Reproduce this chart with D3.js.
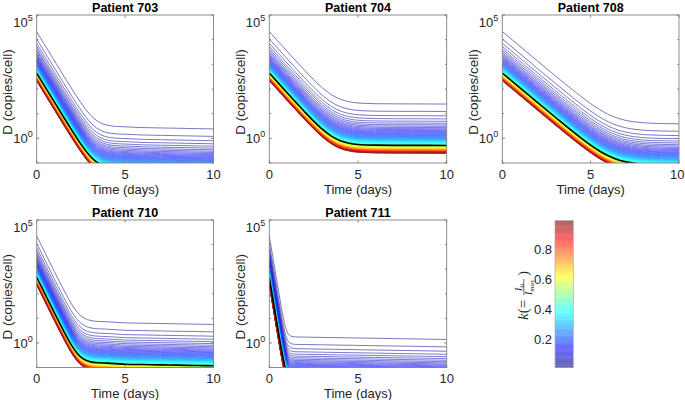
<!DOCTYPE html>
<html><head><meta charset="utf-8">
<script src="https://cdn.jsdelivr.net/npm/d3@7"></script>
<style>
body{margin:0;background:#fff}
svg{display:block}
text{font-family:"Liberation Sans",Arial,Helvetica,sans-serif;fill:#262626}
</style>
</head><body>
<svg id="chart" width="685" height="400"></svg>
<script>
// ---------------- data ----------------
const titles = ["Patient 703", "Patient 704", "Patient 708", "Patient 710", "Patient 711"];
// k = I0/Imax for every simulated curve
const kValues = [0.01,0.02,0.03,0.04,0.05,0.06,0.07,0.08,0.09,0.10,
  0.11,0.12,0.13,0.14,0.15,0.16,0.17,0.18,0.19,0.20,
  0.21,0.22,0.23,0.24,0.25,0.26,0.27,0.28,0.29,0.30,
  0.31,0.32,0.33,0.34,0.35,0.36,0.37,0.38,0.39,0.40,
  0.41,0.42,0.43,0.44,0.45,0.46,0.47,0.48,0.49,0.50,
  0.51,0.52,0.53,0.54,0.55,0.56,0.57,0.58,0.59,0.60,
  0.61,0.62,0.63,0.64,0.65,0.66,0.67,0.68,0.69,0.70,
  0.71,0.72,0.73,0.74,0.75,0.76,0.77,0.78,0.79,0.80,
  0.81,0.82,0.83,0.84,0.85,0.86,0.87,0.88,0.89,0.90,
  0.91,0.92,0.93,0.94,0.95,0.96,0.97,0.98,0.99];
const kBlack = 0.48;       // fitted k (black curve)
const kTopCurve = 0.01;    // k of the uppermost curve read below
// uppermost curve (k = 0.01), log10 D at sample times, per patient
const times703 = [0,0.5,1,1.5,2,2.5,3,3.25,3.5,3.75,4,4.5,5,6,7,8,9,10];
const logD703  = [4.32,3.735,3.15,2.565,1.994,1.446,0.977,0.799,0.669,0.583,0.531,0.483,0.467,0.436,0.422,0.408,0.394,0.38];
const times704 = [0,0.5,1,1.5,2,2.5,3,3.5,4,4.5,5,6,7,8,10];
const logD704  = [4.33,3.93,3.53,3.138,2.75,2.378,2.042,1.77,1.585,1.483,1.433,1.404,1.397,1.396,1.39];
const times708 = [0,1,2,3,4,4.5,5,5.5,6,6.5,7,7.5,8,8.5,9,10];
const logD708  = [4.33,3.73,3.13,2.536,1.95,1.67,1.406,1.17,0.973,0.825,0.727,0.665,0.63,0.611,0.6,0.588];
const times710 = [0,0.5,1,1.5,2,2.25,2.5,2.75,3,3.5,4,5,6,7,8,9,10];
const logD710  = [4.35,3.625,2.9,2.197,1.551,1.293,1.104,0.985,0.921,0.873,0.86,0.815,0.802,0.789,0.776,0.763,0.75];
const times711 = [0,0.25,0.5,0.75,0.9,1,1.1,1.25,1.5,2,3,4,5,6,7,8,9,10];
const logD711  = [4.35,3.275,2.205,1.179,0.68,0.461,0.339,0.268,0.242,0.236,0.224,0.212,0.2,0.188,0.176,0.164,0.152,0.14];
const xTicks = [0, 5, 10];
const yDecades = [-1, 0, 1, 2, 3, 4, 5];
const yLabelled = [0, 5];
const cbTicks = [0.2, 0.4, 0.6, 0.8];
const cbDomain = [0.01, 0.99];

// ---------------- layout ----------------
const W = 685;
const svg = d3.select("#chart");
const cols = [[36.7, 213.5], [269.3, 446.7], [502.3, 679]];
const rows = [[15, 163], [220, 367.5]];
const panels = [
  {times: times703, logD: logD703, c: 0, r: 0},
  {times: times704, logD: logD704, c: 1, r: 0},
  {times: times708, logD: logD708, c: 2, r: 0},
  {times: times710, logD: logD710, c: 0, r: 1},
  {times: times711, logD: logD711, c: 1, r: 1}
];
function jet(x) {
  const cl = v => Math.max(0, Math.min(1, v));
  return [cl(1.5 - Math.abs(4 * x - 3)), cl(1.5 - Math.abs(4 * x - 2)), cl(1.5 - Math.abs(4 * x - 1))];
}
function jetStep(k) {
  const idx = Math.max(0, Math.min(63, Math.round((k - cbDomain[0]) / (cbDomain[1] - cbDomain[0]) * 63)));
  return jet(idx / 63);
}
const rgb = c => `rgb(${Math.round(c[0]*255)},${Math.round(c[1]*255)},${Math.round(c[2]*255)})`;
const blend = (c, a) => c.map(v => v * a + (1 - a));

panels.forEach((p, i) => {
  const [x0, x1] = cols[p.c], [y0, y1] = rows[p.r];
  const x = d3.scaleLinear().domain([0, 10]).range([x0, x1]);
  const y = d3.scaleLog().domain([1e-1, 1e5]).range([y1, y0]);
  const g = svg.append("g");
  const cid = "clip" + i;
  svg.append("clipPath").attr("id", cid).append("rect")
    .attr("x", x0).attr("y", y0).attr("width", x1 - x0).attr("height", y1 - y0);
  const plot = g.append("g").attr("clip-path", `url(#${cid})`);
  const line = d3.line().x(d => x(d.t)).y(d => y(d.v)).curve(d3.curveMonotoneX);
  const series = k => p.times.map((t, j) => ({t, v: Math.pow(10, p.logD[j]) * kTopCurve / k}));
  kValues.forEach(k => {
    plot.append("path").attr("d", line(series(k)))
      .attr("fill", "none").attr("stroke", rgb(blend(jetStep(k), 0.88)))
      .attr("stroke-opacity", 0.6).attr("stroke-width", 1);
  });
  plot.append("path").attr("d", line(series(kBlack)))
    .attr("fill", "none").attr("stroke", "#000").attr("stroke-width", 1.6);

  // box
  g.append("rect").attr("x", x0).attr("y", y0).attr("width", x1 - x0).attr("height", y1 - y0)
    .attr("fill", "none").attr("stroke", "#808080").attr("stroke-width", 0.9);
  // x ticks (inside, bottom & top)
  xTicks.forEach(t => {
    g.append("line").attr("x1", x(t)).attr("x2", x(t)).attr("y1", y1).attr("y2", y1 - 2.5).attr("stroke", "#808080");
    g.append("line").attr("x1", x(t)).attr("x2", x(t)).attr("y1", y0).attr("y2", y0 + 2.5).attr("stroke", "#808080");
    const lbl = g.append("text").attr("x", x(t)).attr("y", y1 + 15.5).attr("text-anchor", "middle")
      .style("font-size", "13px").text(t);
    const bb = lbl.node().getBBox();
    if (bb.x + bb.width > W - 0.5) lbl.attr("x", x(t) - (bb.x + bb.width - (W - 0.5)));
  });
  // y ticks every decade (inside, left & right)
  yDecades.forEach(e => {
    const yy = y(Math.pow(10, e));
    const len = yLabelled.includes(e) ? 2.5 : 1.8;
    g.append("line").attr("x1", x0).attr("x2", x0 + len).attr("y1", yy).attr("y2", yy).attr("stroke", "#808080");
    g.append("line").attr("x1", x1).attr("x2", x1 - len).attr("y1", yy).attr("y2", yy).attr("stroke", "#808080");
  });
  yLabelled.forEach(e => {
    const yy = y(Math.pow(10, e));
    const base = e === 5 ? yy + 12 : yy + 5;
    const t = g.append("text").attr("x", x0 - 4).attr("y", base).attr("text-anchor", "end")
      .style("font-size", "13px");
    t.append("tspan").text("10");
    t.append("tspan").attr("dy", -6).style("font-size", "9px").text(e);
  });
  // titles & labels
  g.append("text").attr("x", (x0 + x1) / 2).attr("y", y0 - 3.5).attr("text-anchor", "middle")
    .style("font-size", "12.5px").style("font-weight", "bold").style("fill", "#000").text(titles[i]);
  g.append("text").attr("x", (x0 + x1) / 2).attr("y", y1 + 30.5).attr("text-anchor", "middle")
    .style("font-size", "13px").text("Time (days)");
  g.append("text").attr("transform", `translate(${x0 - 24.5},${(y0 + y1) / 2 + 3}) rotate(-90)`)
    .attr("text-anchor", "middle").style("font-size", "13.5px").text("D (copies/cell)");
});

// ---------------- colorbar ----------------
const cbX = 555, cbW = 18.3;
const cy = d3.scaleLinear().domain(cbDomain).range([367.7, 220.5]);
const cb = svg.append("g");
d3.range(64).forEach(i => {
  const a = cbDomain[0] + (cbDomain[1] - cbDomain[0]) * i / 64;
  const b = cbDomain[0] + (cbDomain[1] - cbDomain[0]) * (i + 1) / 64;
  cb.append("rect").attr("x", cbX).attr("width", cbW)
    .attr("y", cy(b)).attr("height", cy(a) - cy(b) + 0.3)
    .attr("fill", rgb(blend(jet(i / 63), 0.6)));
});
cb.append("rect").attr("x", cbX).attr("y", cy(cbDomain[1])).attr("width", cbW)
  .attr("height", cy(cbDomain[0]) - cy(cbDomain[1])).attr("fill", "none")
  .attr("stroke", "#b0b0b0").attr("stroke-width", 0.7);
cbTicks.forEach(t => {
  cb.append("text").attr("x", cbX - 3).attr("y", cy(t) + 4.5).attr("text-anchor", "end")
    .style("font-size", "13px").text(t);
});
// label k(= I0 / Imax)
const lg = cb.append("g").attr("transform", "translate(528,293) rotate(-90)");
const serif = '"Liberation Serif","DejaVu Serif",serif';
const lt = lg.append("text").attr("x", -27).attr("y", 0).style("font-family", serif).style("font-size", "15px");
lt.append("tspan").style("font-style", "italic").text("k");
lt.append("tspan").text("(=");
const num = lg.append("text").attr("x", 5.5).attr("y", -6).attr("text-anchor", "middle")
  .style("font-family", serif).style("font-size", "10px");
num.append("tspan").style("font-style", "italic").text("I");
num.append("tspan").attr("dy", 2).style("font-size", "7px").text("0");
lg.append("line").attr("x1", -2).attr("x2", 14).attr("y1", -4.2).attr("y2", -4.2)
  .attr("stroke", "#262626").attr("stroke-width", 0.7);
const den = lg.append("text").attr("x", 5.5).attr("y", 4).attr("text-anchor", "middle")
  .style("font-family", serif).style("font-size", "10px");
den.append("tspan").style("font-style", "italic").text("I");
den.append("tspan").attr("dy", 2).style("font-size", "7px").style("font-style", "italic").text("max");
lg.append("text").attr("x", 17).attr("y", 0).style("font-family", serif).style("font-size", "15px").text(")");
</script>
</body></html>
